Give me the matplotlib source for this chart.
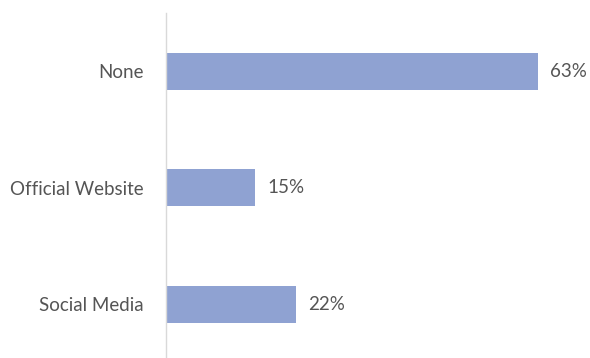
import matplotlib
matplotlib.use("Agg")
import matplotlib.pyplot as plt

# data
categories = ["None", "Official Website", "Social Media"]
shares = [63, 15, 22]
bar_labels = ["63%", "15%", "22%"]

BAR_COLOR = "#8fa2d2"
TEXT_COLOR = "#555555"
plt.rcParams["font.family"] = ["Lato", "DejaVu Sans"]

fig = plt.figure(figsize=(5.9, 3.58), dpi=100)
fig.patch.set_facecolor("white")
ax = fig.add_axes([166 / 590, 0, 413 / 590, 345 / 358])

pos = list(range(len(categories)))
bars = ax.barh(pos, shares, height=0.317, color=BAR_COLOR)
ax.set_xlim(0, 70)
ax.set_ylim(2.46, -0.5)

# percentage labels just right of each bar
for rect, lab in zip(bars, bar_labels):
    ax.annotate(lab, (rect.get_width(), rect.get_y() + rect.get_height() / 2),
                xytext=(9, 0), textcoords="offset points",
                ha="left", va="center", fontsize=13.5, color=TEXT_COLOR)

ax.set_yticks(pos)
ax.set_yticklabels(categories, fontsize=13.5, color=TEXT_COLOR)
ax.tick_params(axis="y", length=0, pad=16)
ax.set_xticks([])

for side in ["top", "right", "bottom"]:
    ax.spines[side].set_visible(False)
ax.spines["left"].set_color("#d9d9d9")
ax.spines["left"].set_linewidth(1)

fig.savefig("out.png", dpi=100, facecolor="white")
